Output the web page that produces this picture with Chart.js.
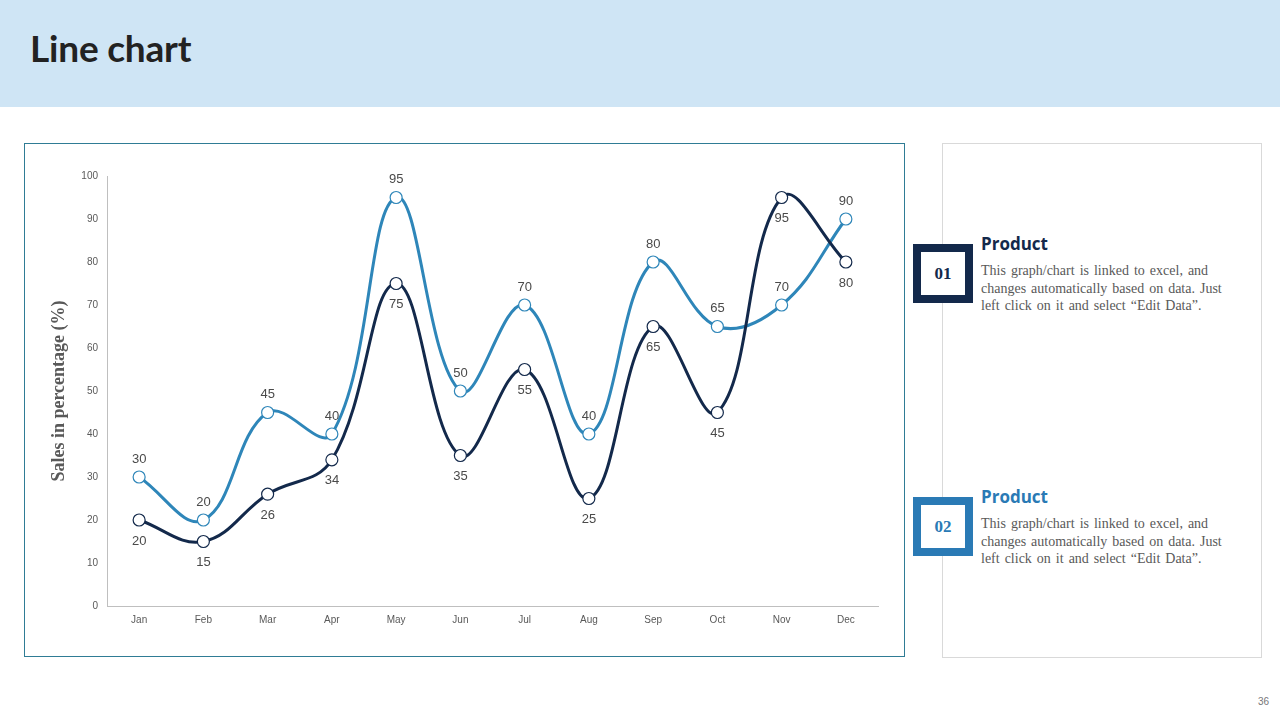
<!DOCTYPE html>
<html>
<head>
<meta charset="utf-8">
<script src="https://cdn.jsdelivr.net/npm/chart.js@4.4.0/dist/chart.umd.min.js"></script>
<style>
  body { margin: 0; width: 1280px; height: 720px; background: #fff; position: relative; overflow: hidden; font-family: "Liberation Sans", Arial, sans-serif; }
  .header { position: absolute; left: 0; top: 0; width: 1280px; height: 107px; background: #cfe5f5; }
  .header h1 { position: absolute; left: 30px; top: 25px; margin: 0; font-family: Lato, "Open Sans", sans-serif; font-weight: 700; font-size: 37px; color: #222; letter-spacing: -0.2px; }
  .chartBox { position: absolute; left: 24px; top: 143px; width: 879px; height: 512px; border: 1px solid #2f7c95; }
  .side { position: absolute; left: 942px; top: 143px; width: 318px; height: 513px; border: 1px solid #d9d9d9; }
  .num { position: absolute; width: 44px; height: 43px; border: 8px solid #13294b; background: #fff; text-align: center; line-height: 43px; font-family: "Liberation Serif", serif; font-weight: bold; font-size: 17px; color: #13294b; }
  .item h3 { position: absolute; margin: 0; font-family: "Open Sans", sans-serif; font-weight: 700; font-size: 17px; color: #13294b; }
  .item p { position: absolute; margin: 0; width: 252px; font-family: "Liberation Serif", serif; font-size: 14px; line-height: 17.5px; word-spacing: 1.5px; color: #595959; }
  .pageNo { position: absolute; left: 1258px; top: 696px; font-size: 10px; color: #777; }
</style>
</head>
<body>
<div class="header"><h1>Line chart</h1></div>
<div class="chartBox"><canvas id="lineChart"></canvas></div>
<div class="side"></div>

<div class="item">
  <div class="num" style="left:913px; top:244px;">01</div>
  <h3 style="left:981px; top:232px;">Product</h3>
  <p style="left:981px; top:262px;">This graph/chart is linked to excel, and changes automatically based on data. Just left click on it and select “Edit Data”.</p>
</div>
<div class="item">
  <div class="num" style="left:913px; top:497px; border-color:#2a7ab5; color:#2a7ab5;">02</div>
  <h3 style="left:981px; top:485px; color:#2a7ab5;">Product</h3>
  <p style="left:981px; top:515px;">This graph/chart is linked to excel, and changes automatically based on data. Just left click on it and select “Edit Data”.</p>
</div>
<div class="pageNo">36</div>

<script>
const months = ['Jan', 'Feb', 'Mar', 'Apr', 'May', 'Jun', 'Jul', 'Aug', 'Sep', 'Oct', 'Nov', 'Dec'];
const product1 = [20, 15, 26, 34, 75, 35, 55, 25, 65, 45, 95, 80];
const product2 = [30, 20, 45, 40, 95, 50, 70, 40, 80, 65, 70, 90];
const yTicks = [0, 10, 20, 30, 40, 50, 60, 70, 80, 90, 100];

// draws the value next to every point: product 2 above, product 1 below
const valueLabels = {
    id: 'valueLabels',
    afterDatasetsDraw(chart) {
        const ctx = chart.ctx;
        ctx.save();
        ctx.font = '13px "Liberation Sans", Arial, sans-serif';
        ctx.fillStyle = '#4a4a4a';
        ctx.textAlign = 'center';
        ctx.textBaseline = 'middle';
        chart.data.datasets.forEach((ds, i) => {
            const meta = chart.getDatasetMeta(i);
            const shift = ds.labelSide === 'above' ? -18 : 21;
            meta.data.forEach((pt, j) => {
                ctx.fillText(ds.data[j], pt.x, pt.y + shift);
            });
        });
        ctx.restore();
    }
};

const canvas = document.getElementById('lineChart');
canvas.width = 879;
canvas.height = 512;

new Chart(canvas.getContext('2d'), {
    type: 'line',
    data: {
        labels: months,
        datasets: [{
            label: 'Product 01',
            data: product1,
            borderColor: '#13294b',
            labelSide: 'below'
        }, {
            label: 'Product 02',
            data: product2,
            borderColor: '#2e86b9',
            labelSide: 'above'
        }].map(ds => Object.assign(ds, {
            borderWidth: 3,
            tension: 0.4,
            pointRadius: 6,
            pointBorderWidth: 1.2,
            pointBackgroundColor: '#fff',
            pointBorderColor: ds.borderColor,
            clip: false
        }))
    },
    options: {
        responsive: false,
        animation: false,
        layout: { padding: { top: 32, right: 26, left: 0, bottom: 0 } },
        plugins: { legend: { display: false }, tooltip: { enabled: false } },
        scales: {
            x: {
                offset: true,
                grid: { display: false, drawTicks: false },
                border: { display: true, color: '#bfbfbf', width: 1 },
                ticks: { color: '#595959', font: { size: 10, family: '"Liberation Sans", Arial' }, padding: 8 },
                afterFit(scale) { scale.height = 50; }
            },
            y: {
                min: 0,
                max: 100,
                afterBuildTicks(scale) { scale.ticks = yTicks.map(v => ({ value: v })); },
                grid: { display: false, drawTicks: false },
                border: { display: true, color: '#bfbfbf', width: 1 },
                ticks: { color: '#595959', font: { size: 10, family: '"Liberation Sans", Arial' }, padding: 9 },
                title: {
                    display: true,
                    text: 'Sales in percentage (%)',
                    color: '#595959',
                    font: { size: 18, weight: 'bold', family: '"Liberation Serif", serif' },
                    padding: { top: 24, bottom: 0 }
                },
                afterFit(scale) { scale.width = 82; }
            }
        }
    },
    plugins: [valueLabels]
});
</script>
</body>
</html>
